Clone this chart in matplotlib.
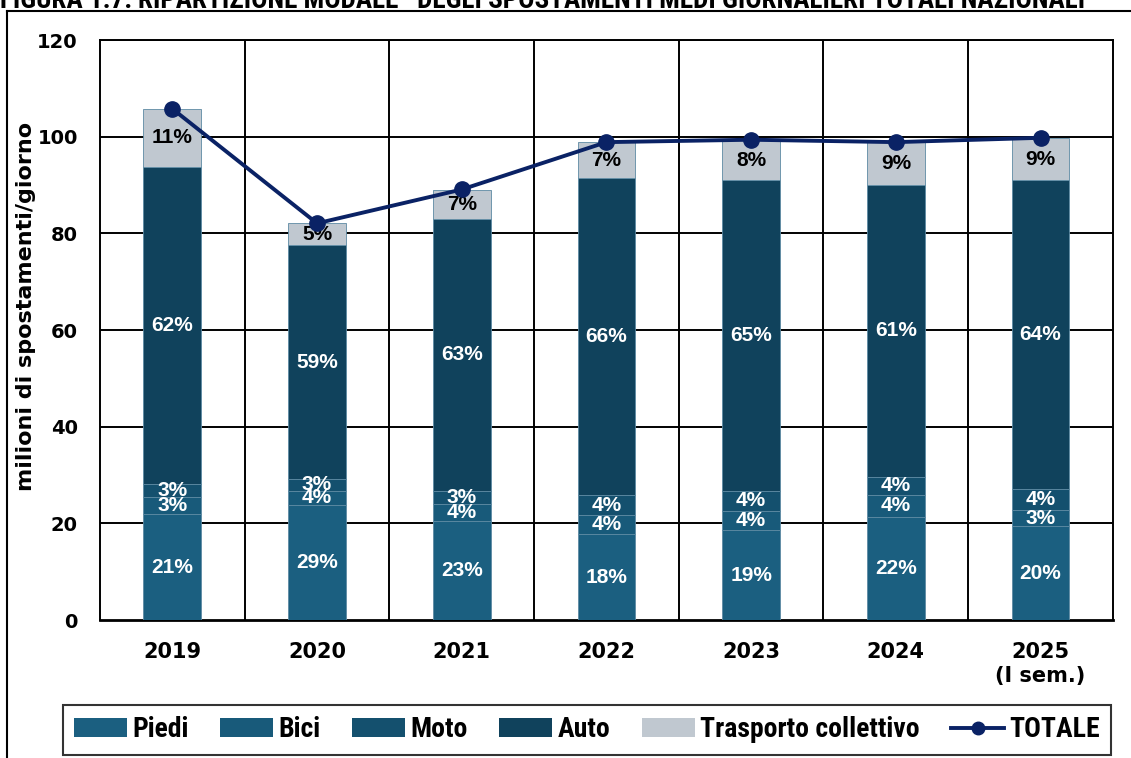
import numpy as np
import matplotlib.pyplot as plt
from matplotlib import font_manager
from matplotlib.lines import Line2D
from matplotlib.patches import Patch

# -----------------------------
# DATA (milioni di spostamenti/giorno)
# -----------------------------
years = ["2019", "2020", "2021", "2022", "2023", "2024", "2025\n(I sem.)"]
piedi = [21.9, 23.8, 20.5, 17.8, 18.6, 21.4, 19.4]
bici = [3.5, 3.0, 3.5, 3.9, 3.9, 4.5, 3.4]
moto = [2.7, 2.3, 2.7, 4.2, 4.3, 3.8, 4.4]
auto = [65.7, 48.5, 56.3, 65.6, 64.2, 60.3, 63.8]
trasporto = [12.0, 4.5, 6.0, 7.4, 8.4, 8.9, 8.8]
totale = [105.8, 82.1, 89.1, 98.9, 99.4, 98.9, 99.8]

pct_piedi = ["21%", "29%", "23%", "18%", "19%", "22%", "20%"]
pct_bici = ["3%", "4%", "4%", "4%", "4%", "4%", "3%"]
pct_moto = ["3%", "3%", "3%", "4%", "4%", "4%", "4%"]
pct_auto = ["62%", "59%", "63%", "66%", "65%", "61%", "64%"]
pct_trasp = ["11%", "5%", "7%", "7%", "8%", "9%", "9%"]

series = [
    ("Piedi", piedi, pct_piedi, "#1b5f80", "white"),
    ("Bici", bici, pct_bici, "#185a7a", "white"),
    ("Moto", moto, pct_moto, "#14506e", "white"),
    ("Auto", auto, pct_auto, "#10425c", "white"),
    ("Trasporto collettivo", trasporto, pct_trasp, "#c0c8d0", "black"),
]

# narrow font for title / legend, if one is installed
names = sorted({f.name for f in font_manager.fontManager.ttflist})
narrow = None
for cand in ["Liberation Sans Narrow", "Roboto Condensed", "Open Sans Condensed",
             "DejaVu Sans Condensed", "Noto Sans Condensed"]:
    if cand in names:
        narrow = cand
        break
narrow_kw = {"family": narrow} if narrow else {"family": "DejaVu Sans", "stretch": "condensed"}

# -----------------------------
# FIGURE
# -----------------------------
fig = plt.figure(figsize=(11.31, 7.58), dpi=100)
ax = fig.add_axes([0.0884, 0.182, 0.8956, 0.765])

x = np.arange(len(years))
bottom = np.zeros(len(years))
handles = []
for name, vals, pcts, color, tcolor in series:
    vals = np.array(vals)
    ax.bar(x, vals, width=0.4, bottom=bottom, color=color,
           edgecolor="#5d8aa3", linewidth=0.6, zorder=3)
    for i in range(len(x)):
        ax.text(x[i], bottom[i] + vals[i] / 2, pcts[i], ha="center", va="center",
                color=tcolor, fontsize=15, fontweight="bold",
                family="Liberation Sans", zorder=5)
    bottom += vals
    handles.append(Patch(facecolor=color, label=name))

ax.plot(x, totale, color="#0a2265", lw=2.8, marker="o", markersize=11, zorder=6)
handles.append(Line2D([0], [0], color="#0a2265", lw=2.8, marker="o",
                      markersize=9, label="TOTALE"))

# axes / grid
ax.set_xlim(-0.5, len(years) - 0.5)
ax.set_ylim(0, 120)
ax.set_yticks(range(0, 121, 20))
for y in range(20, 121, 20):
    ax.axhline(y, color="black", lw=1.4, zorder=1)
for xv in np.arange(0.5, len(years) - 0.5, 1):
    ax.axvline(xv, color="black", lw=1.4, zorder=1)
for s in ax.spines.values():
    s.set_color("black")
    s.set_linewidth(1.4)
ax.spines["bottom"].set_linewidth(2)

ax.set_xticks(x)
ax.set_xticklabels(years, fontsize=15, fontweight="heavy", family="DejaVu Sans",
                   linespacing=1.25)
ax.tick_params(axis="y", labelsize=14, length=0, pad=16)
ax.tick_params(axis="x", length=0, pad=16)
for lbl in ax.get_yticklabels():
    lbl.set_fontweight("heavy")
ax.set_ylabel("milioni di spostamenti/giorno", fontsize=16, fontweight="heavy",
              labelpad=4)
ax.yaxis.set_label_coords(-0.063, 0.54)

# legend
leg = fig.legend(handles=handles, loc="center", ncol=6, frameon=True,
                 bbox_to_anchor=(0.0557, 0.008, 0.927, 0.058), mode="expand",
                 prop=dict(weight="bold", size=20, **narrow_kw),
                 handlelength=1.9, handleheight=0.7, handletextpad=0.2,
                 columnspacing=0.8, borderaxespad=0, fancybox=False)
leg.get_frame().set_edgecolor("black")
leg.get_frame().set_linewidth(1.5)

# outer frame and cut title
fig.add_artist(Line2D([7 / 1131, 7 / 1131], [0, 1 - 11 / 758], color="black", lw=1.5,
                      transform=fig.transFigure))
fig.add_artist(Line2D([7 / 1131, 1], [1 - 11 / 758, 1 - 11 / 758], color="black", lw=1.5,
                      transform=fig.transFigure))
fig.text(0.0, 1.0, "FIGURA 1.7: RIPARTIZIONE MODALE   DEGLI SPOSTAMENTI MEDI GIORNALIERI TOTALI NAZIONALI",
         ha="left", va="center", fontsize=19.5, fontweight="bold", **narrow_kw)

fig.savefig("out.png", dpi=100)
